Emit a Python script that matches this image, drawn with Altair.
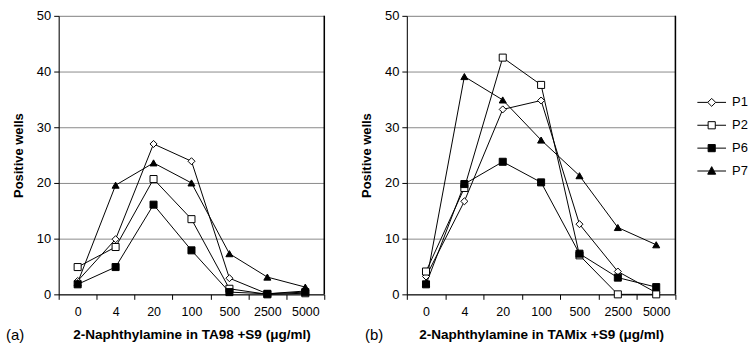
import altair as alt
import pandas as pd

doses = ["0", "4", "20", "100", "500", "2500", "5000"]
series = ["P1", "P2", "P6", "P7"]

# Panel (a): TA98 +S9
a_p1 = [2.4, 9.9, 27.0, 23.9, 2.9, 0.1, 0.6]
a_p2 = [4.9, 8.5, 20.7, 13.5, 1.0, 0.0, 0.2]
a_p6 = [1.8, 4.9, 16.1, 7.9, 0.4, 0.1, 0.4]
a_p7 = [2.1, 19.6, 23.6, 20.0, 7.3, 3.1, 1.3]

# Panel (b): TAMix +S9
b_p1 = [3.2, 16.7, 33.2, 34.8, 12.6, 4.1, 0.3]
b_p2 = [4.1, 19.1, 42.5, 37.6, 7.0, 0.0, 0.0]
b_p6 = [1.8, 19.8, 23.8, 20.1, 7.3, 3.0, 1.3]
b_p7 = [2.0, 39.1, 34.9, 27.7, 21.3, 12.0, 8.9]

y_ticks = [0, 10, 20, 30, 40, 50]
shapes = ["diamond", "square", "square", "triangle-up"]
fills = ["white", "white", "black", "black"]
legend_shapes = [
    "M-3.6,0H-1M1,0H3.6M0,-1L1,0L0,1L-1,0Z",
    "M-3.6,0H-0.9M0.9,0H3.6M-0.9,-0.9H0.9V0.9H-0.9Z",
    "M-3.6,0H-0.9M0.9,0H3.6M-0.9,-0.9H0.9V0.9H-0.9Z",
    "M-3.6,0H-0.5M0.5,0H3.6M0,-1.1L1,0.8H-1Z",
]

FONT = "Liberation Sans"
W_A, W_B, H = 267, 270, 280


def make_df(vals):
    rows = []
    for s, v in zip(series, vals):
        for i, (d, y) in enumerate(zip(doses, v)):
            rows.append({"series": s, "dose": d, "idx": i, "value": y})
    return pd.DataFrame(rows)


def panel(df, tag, xtitle, W, with_legend):
    x = alt.X(
        "dose:N",
        sort=doses,
        scale=alt.Scale(type="band", domain=doses, paddingInner=0, paddingOuter=0),
        axis=alt.Axis(
            title=xtitle, tickBand="extent", labelAngle=0, grid=False,
            tickSize=5, labelPadding=6, labelFontSize=12.5, labelFont=FONT,
            titleFontSize=13.6, titleFont=FONT, titleFontWeight="bold",
            titlePadding=10, domainColor="black", tickColor="black",
            labelColor="black", titleColor="black",
        ),
    )
    y = alt.Y(
        "value:Q",
        scale=alt.Scale(domain=[0, 50], nice=False),
        axis=alt.Axis(
            values=y_ticks, title="Positive wells", grid=True,
            gridColor="#8a8a8a", gridWidth=1, tickSize=5, labelPadding=3,
            labelFontSize=13, labelFont=FONT, titleFontSize=13, titleFont=FONT,
            titleFontWeight="bold", titlePadding=11, domainColor="black",
            tickColor="black", labelColor="black", titleColor="black",
        ),
    )
    base = alt.Chart(df)
    border = alt.Chart(pd.DataFrame({"k": [0]})).mark_rule(
        color="black", strokeWidth=1.5
    ).encode(x=alt.value(W), y=alt.value(0), y2=alt.value(H))
    lines = base.mark_line(color="black", strokeWidth=1).encode(
        x=x, y=y, detail="series:N", order="idx:Q"
    )
    layers = [border, lines]
    for s, shp, fl in zip(series, shapes, fills):
        layers.append(
            base.transform_filter(alt.datum.series == s).mark_point(
                filled=True, size=50, shape=shp, fill=fl,
                stroke="black", strokeWidth=1, opacity=1,
            ).encode(x=x, y=y)
        )
    label = alt.Chart(pd.DataFrame({"t": [tag]})).mark_text(
        align="left", baseline="middle", fontSize=15, font=FONT, color="black"
    ).encode(text="t:N", x=alt.value(-53 if tag == "(a)" else -42), y=alt.value(H + 41))
    layers.append(label)
    if with_legend:
        leg = alt.Legend(
            orient="none", legendX=650, legendY=80.5, symbolSize=64,
            labelFontSize=13, labelFont=FONT, labelColor="black",
            labelOffset=14, rowPadding=9, padding=0, title=None,
            symbolStrokeWidth=1,
        )
        legend_layer = base.transform_filter("false").mark_point(
            filled=True, strokeWidth=1, opacity=1
        ).encode(
            x=x, y=y,
            shape=alt.Shape("series:N", scale=alt.Scale(domain=series, range=legend_shapes), legend=leg),
            fill=alt.Fill("series:N", scale=alt.Scale(domain=series, range=fills), legend=leg),
            stroke=alt.Stroke("series:N", scale=alt.Scale(domain=series, range=["black"] * 4), legend=leg),
        )
        layers.append(legend_layer)
    return alt.layer(*layers).properties(width=W, height=H)


pa = panel(make_df([a_p1, a_p2, a_p6, a_p7]), "(a)", "2-Naphthylamine in TA98 +S9 (\u03bcg/ml)", W_A, False)
pb = panel(make_df([b_p1, b_p2, b_p6, b_p7]), "(b)", "2-Naphthylamine in TAMix +S9 (\u03bcg/ml)", W_B, True)

chart = alt.hconcat(pa, pb, spacing=34).resolve_scale(
    x="independent", y="independent"
).properties(
    padding={"left": 5, "top": 8, "right": 0, "bottom": 0},
    background="white",
).configure_view(stroke=None).configure(font=FONT)

chart.save("out.html", embed_options={"renderer": "svg", "actions": False})
